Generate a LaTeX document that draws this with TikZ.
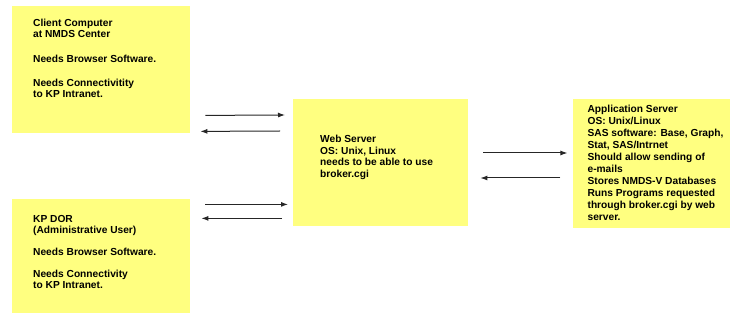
\documentclass[tikz,border=0pt]{standalone}
\usepackage{fontspec}
\setmainfont{Liberation Sans}
\usetikzlibrary{arrows.meta,positioning}
\definecolor{notepad}{RGB}{255,255,128}

\begin{document}
\begin{tikzpicture}[x=1pt,y=-1pt,>={Latex[length=7pt,width=5pt]},box/.style={fill=notepad,inner sep=0pt},txt/.style={anchor=north west,inner sep=0pt,align=left,font=\fontsize{10.2}{11}\selectfont\bfseries},arr/.style={->,line width=1pt,draw=black!85}]
\useasboundingbox (0,0) rectangle (733,320);
\node[box,minimum width=178pt,minimum height=127pt,anchor=north west] (client) at (12,6) {};
\node[box,minimum width=178pt,minimum height=114pt,below=65pt of client] (dor) {};
\node[box,minimum width=175pt,minimum height=127pt,anchor=north west] (web) at (293,99) {};
\node[box,minimum width=157pt,minimum height=129pt,right=104pt of web.north east,anchor=north west] (app) {};
% texts
\node[txt] (client-txt) at ([xshift=21pt,yshift=-13pt]client.north west) {Client Computer\\at NMDS Center\\[14pt]Needs Browser Software.\\[13pt]Needs Connectivitity\\to KP Intranet.};
\node[txt] (dor-txt) at ([xshift=21pt,yshift=-17pt]dor.north west) {KP DOR\\(Administrative User)\\[11pt]Needs Browser Software.\\[11pt]Needs Connectivity\\to KP Intranet.};
\node[txt,font=\fontsize{10.2}{11.5}\selectfont\bfseries] (web-txt) at ([xshift=27pt,yshift=-36pt]web.north west) {Web Server\\OS: Unix, Linux\\needs to be able to use\\broker.cgi};
\node[txt,font=\fontsize{10.2}{12}\selectfont\bfseries] (app-txt) at ([xshift=15pt,yshift=-6pt]app.north west) {Application Server\\OS: Unix/Linux\\SAS software: Base, Graph,\\Stat, SAS/Intrnet\\Should allow sending of\\e-mails\\Stores NMDS-V Databases\\Runs Programs requested\\through broker.cgi by web\\server.};
% arrows
\draw[arr] ([xshift=15pt,yshift=18pt]client.south east) -- ([xshift=-8pt,yshift=-16pt]web.north west);
\draw[arr] ([xshift=-13pt,yshift=-32pt]web.north west) -- ([xshift=10pt,yshift=2pt]client.south east);
\draw[arr] ([xshift=15pt,yshift=-6pt]dor.north east) -- ([xshift=-5pt,yshift=22pt]web.south west);
\draw[arr] ([xshift=-11pt,yshift=8pt]web.south west) -- ([xshift=11pt,yshift=-20pt]dor.north east);
\draw[arr] ([xshift=15pt,yshift=-54pt]web.north east) -- ([xshift=-5pt,yshift=-54pt]app.north west);
\draw[arr] ([xshift=-12pt,yshift=-79pt]app.north west) -- ([xshift=12pt,yshift=-79pt]web.north east);
\end{tikzpicture}
\end{document}
